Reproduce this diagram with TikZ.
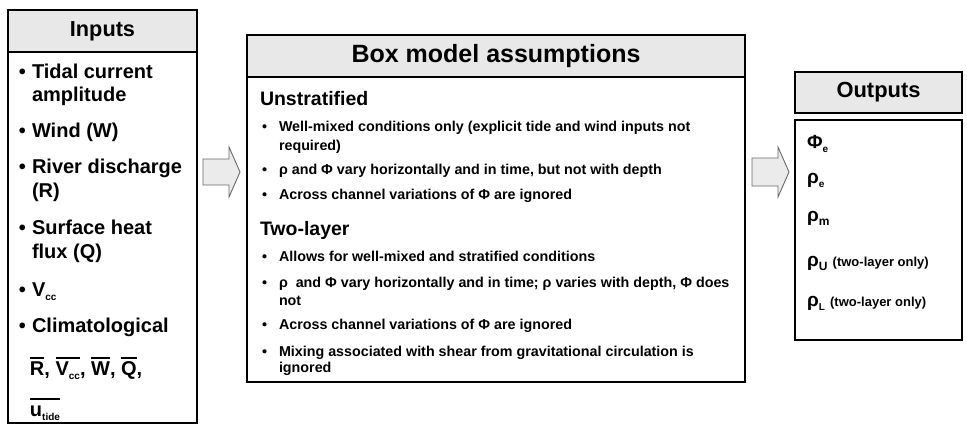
\documentclass[tikz,border=0pt]{standalone}
\usepackage{fontspec}
\setmainfont{Liberation Sans}
\usetikzlibrary{calc}
\definecolor{hdrgray}{HTML}{E8E8E8}
\definecolor{arrfill}{HTML}{EBEBEB}
\definecolor{arrline}{HTML}{6A6A6A}
\newcommand\ovl[1]{\leavevmode\vbox{\hrule height 2pt \kern 2pt\hbox{\vphantom{R}#1}}}
\newcommand\sbs[1]{\raisebox{-0.4ex}{\fontsize{10}{10}\selectfont #1}}
\newcommand\sbsb[1]{\raisebox{-0.4ex}{\fontsize{12}{12}\selectfont #1}}
\newcommand\smalltxt[1]{{\fontsize{13}{15}\selectfont #1}}
\begin{document}
\begin{tikzpicture}[x=1pt,y=-1pt,
  frame/.style={draw=black, line width=2pt, inner sep=0pt, outer sep=0pt, anchor=north west},
  hdr/.style={frame, fill=hdrgray},
  txt/.style={anchor=base west, inner sep=0pt, outer sep=0pt},
  intxt/.style={txt, font=\fontsize{20}{23}\selectfont\bfseries},
  midhd/.style={txt, font=\fontsize{19.5}{22}\selectfont\bfseries},
  midtxt/.style={txt, font=\fontsize{14.3}{17}\selectfont\bfseries},
  outtxt/.style={txt, font=\fontsize{19}{22}\selectfont\bfseries},
  blockarrow/.style={draw=arrline, fill=arrfill, line width=0.9pt, line join=miter}]
\path[use as bounding box, fill=white] (0,0) rectangle (967,424);

% ---------- Inputs ----------
\node[hdr, minimum width=189pt, minimum height=42pt, font=\fontsize{21.7}{24}\selectfont\bfseries] (inH) at (8,10) {Inputs};
\node[frame, minimum width=189pt, minimum height=371pt] (inB) at (8,52) {};
\foreach \y/\n in {78/b1,137/b2,173/b3,234/b4,296/b5,332/b6}
  \node[intxt] (\n) at (19,\y) {•};
\node[intxt] (i1) at (32,78) {Tidal current};
\node[intxt] (i1b) at (32,101) {amplitude};
\node[intxt] (i2) at (32,137) {Wind (W)};
\node[intxt] (i3) at (32,173) {River discharge};
\node[intxt] (i3b) at (32,197) {(R)};
\node[intxt] (i4) at (32,234) {Surface heat};
\node[intxt] (i4b) at (32,258) {flux (Q)};
\node[intxt] (i5) at (32,296) {V\sbs{cc}};
\node[intxt] (i6) at (32,332) {Climatological};
\node[intxt] (i6b) at (30,375) {\ovl{R}, \ovl{V\sbs{cc}}, \ovl{W}, \ovl{Q},};
\node[intxt] (i6c) at (30,416) {\ovl{u\sbs{tide}}};

% ---------- Box model assumptions ----------
\node[hdr, minimum width=498pt, minimum height=42pt, font=\fontsize{25}{28}\selectfont\bfseries] (mH) at (247,35) {Box model assumptions};
\node[frame, minimum width=498pt, minimum height=305pt] (mB) at (247,77) {};
\node[midhd] (h1) at (260,105) {Unstratified};
\node[midhd] (h2) at (260,235) {Two-layer};
\foreach \y/\n in {131.5/m1,174.5/m2,199.5/m3,261.5/m4,287.5/m5,329.5/m6,356/m7}
  \node[midtxt] (\n) at (262,\y) {•};
\node[midtxt] (u1) at (279,131.5) {Well-mixed conditions only (explicit tide and wind inputs not};
\node[midtxt] (u1b) at (279,150) {required)};
\node[midtxt] (u2) at (279,174.5) {ρ and Φ vary horizontally and in time, but not with depth};
\node[midtxt] (u3) at (279,199.5) {Across channel variations of Φ are ignored};
\node[midtxt] (t1) at (279,261.5) {Allows for well-mixed and stratified conditions};
\node[midtxt] (t2) at (279,287.5) {ρ\ \ and Φ vary horizontally and in time; ρ varies with depth, Φ does};
\node[midtxt] (t2b) at (279,305) {not};
\node[midtxt] (t3) at (279,329.5) {Across channel variations of Φ are ignored};
\node[midtxt] (t4) at (279,356) {Mixing associated with shear from gravitational circulation is};
\node[midtxt] (t4b) at (279,372.5) {ignored};

% ---------- Outputs ----------
\node[hdr, minimum width=167pt, minimum height=41pt, font=\fontsize{21.9}{24}\selectfont\bfseries] (oH) at (795,72) {Outputs};
\node[frame, minimum width=167pt, minimum height=220pt] (oB) at (795,120) {};
\node[outtxt] (o1) at (807,148) {Φ\sbs{e}};
\node[outtxt] (o2) at (807,183) {ρ\sbs{e}};
\node[outtxt] (o3) at (807,221) {ρ\sbsb{m}};
\node[outtxt] (o4) at (807,266) {ρ\sbsb{U} \smalltxt{(two-layer only)}};
\node[outtxt] (o5) at (807,306) {ρ\sbs{L} \smalltxt{(two-layer only)}};

% ---------- block arrows ----------
\coordinate (a1) at (203,172);
\draw[blockarrow] ($(a1)+(0,-13)$) -- ++(26,0) -- ++(0,-12) -- ($(a1)+(37,0)$) -- ($(a1)+(26,25)$) -- ++(0,-12) -- ($(a1)+(0,13)$) -- cycle;
\coordinate (a2) at (752,172);
\draw[blockarrow] ($(a2)+(0,-14)$) -- ++(26,0) -- ++(0,-11) -- ($(a2)+(37,0)$) -- ($(a2)+(26,25)$) -- ++(0,-11) -- ($(a2)+(0,14)$) -- cycle;
\end{tikzpicture}
\end{document}
